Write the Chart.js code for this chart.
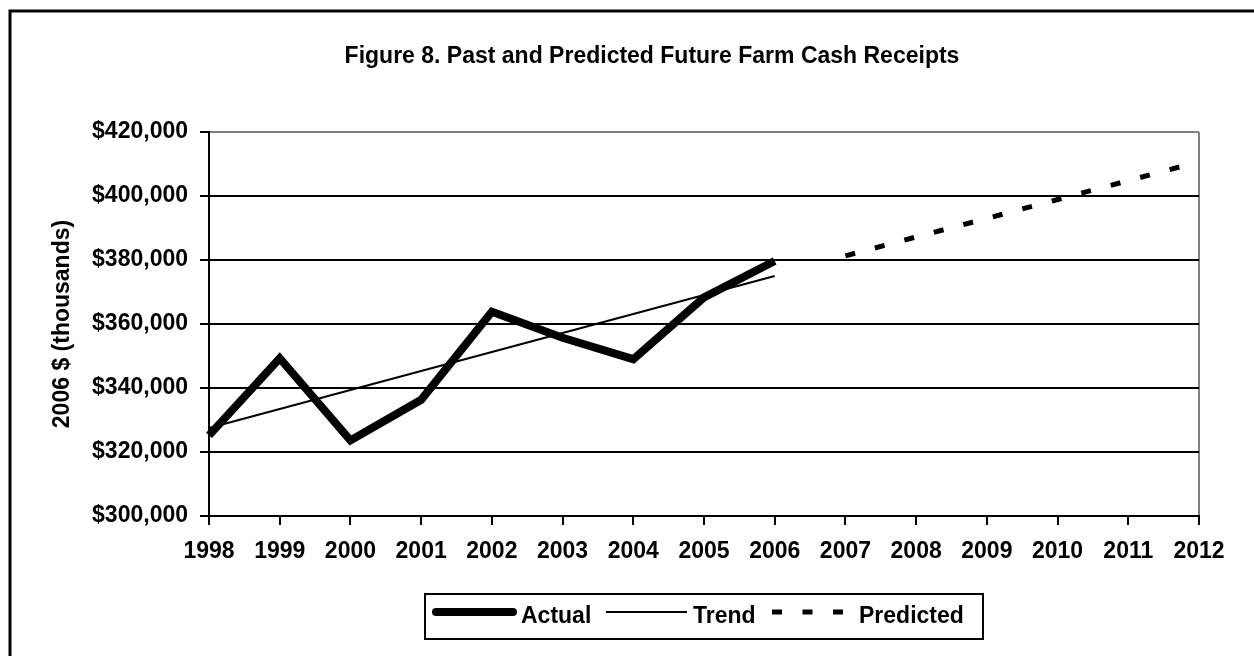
<!DOCTYPE html>
<html>
<head>
<meta charset="utf-8">
<title>Figure 8</title>
<script src="https://cdn.jsdelivr.net/npm/chart.js@4.4.0/dist/chart.umd.min.js"></script>
<style>
  html, body { margin: 0; padding: 0; background: #fff; }
  canvas { display: block; }
</style>
</head>
<body>
<canvas id="chart" width="1254" height="656"></canvas>
<script>
// Data (2006 $, thousands)
const years = ['1998', '1999', '2000', '2001', '2002', '2003', '2004', '2005',
               '2006', '2007', '2008', '2009', '2010', '2011', '2012'];
const actual = [325200, 349300, 323600, 336300, 363800, 355700, 349000, 368300, 379700,
                null, null, null, null, null, null];
const trend = [327500, 333440, 339380, 345310, 351250, 357190, 363130, 369060, 375000,
               null, null, null, null, null, null];
const predicted = [null, null, null, null, null, null, null, null, null,
                   381300, 387200, 393000, 398900, 404800, 410700];
const yMin = 300000;
const yMax = 420000;
const yStep = 20000;

const chartTitle = 'Figure 8. Past and Predicted Future Farm Cash Receipts';
const FONT = '"Liberation Sans", Arial, sans-serif';

Chart.defaults.font.family = FONT;
Chart.defaults.color = '#000';

// legend slots: line start/end and text x
const legendSlots = [
    { x0: 436, x1: 513, tx: 521 },
    { x0: 606, x1: 687, tx: 693 },
    { x0: 772, x1: 845, tx: 859 }
];

// frame, title and boxed legend
const figureDecor = {
    id: 'figureDecor',
    beforeDraw(chart) {
        const ctx = chart.ctx;
        ctx.save();
        ctx.fillStyle = '#fff';
        ctx.fillRect(0, 0, chart.width, chart.height);
        ctx.strokeStyle = '#000';
        ctx.lineWidth = 3;
        ctx.strokeRect(10, 11, chart.width + 40, chart.height + 40);
        ctx.restore();
    },
    afterDraw(chart) {
        const ctx = chart.ctx;
        ctx.save();
        ctx.fillStyle = '#000';
        ctx.font = 'bold 23px ' + FONT;
        ctx.textAlign = 'center';
        ctx.textBaseline = 'alphabetic';
        ctx.fillText(chartTitle, 652, 63);

        ctx.strokeStyle = '#000';
        ctx.lineWidth = 2;
        ctx.strokeRect(425, 594, 558, 45);

        ctx.textAlign = 'left';
        legendSlots.forEach((slot, i) => {
            const ds = chart.data.datasets[i];
            ctx.beginPath();
            ctx.lineWidth = ds.borderWidth;
            ctx.lineCap = i === 0 ? 'round' : 'butt';
            ctx.setLineDash(ds.borderDash || []);
            ctx.moveTo(slot.x0, 612);
            ctx.lineTo(slot.x1, 612);
            ctx.stroke();
            ctx.setLineDash([]);
            ctx.fillText(ds.label, slot.tx, 623);
        });
        ctx.restore();
    }
};

new Chart(document.getElementById('chart'), {
    type: 'line',
    data: {
        labels: years,
        datasets: [
            { label: 'Actual', data: actual, borderColor: '#000', borderWidth: 8,
              borderJoinStyle: 'miter', borderCapStyle: 'butt' },
            { label: 'Trend', data: trend, borderColor: '#000', borderWidth: 2 },
            { label: 'Predicted', data: predicted, borderColor: '#000', borderWidth: 5,
              borderDash: [10, 20.5], borderCapStyle: 'butt' }
        ]
    },
    options: {
        responsive: false,
        animation: false,
        layout: { padding: { left: 40, right: 55, top: 132, bottom: 90 } },
        elements: {
            point: { radius: 0, hoverRadius: 0 },
            line: { tension: 0, fill: false }
        },
        plugins: {
            legend: { display: false },
            title: { display: false },
            tooltip: { enabled: false }
        },
        scales: {
            x: {
                offset: false,
                grid: {
                    color: (c) => c.index === years.length - 1 ? '#808080' : 'rgba(0,0,0,0)',
                    tickColor: '#000',
                    lineWidth: 2,
                    tickWidth: 2,
                    tickLength: 9
                },
                border: { display: true, color: '#000', width: 2 },
                ticks: {
                    font: { size: 23, weight: 'bold' },
                    padding: 13,
                    maxRotation: 0,
                    autoSkip: false
                },
                afterFit: (s) => { s.height = 50; }
            },
            y: {
                min: yMin,
                max: yMax,
                grid: {
                    color: (c) => c.tick && c.tick.value === yMax ? '#808080' : '#000',
                    tickColor: '#000',
                    lineWidth: 2,
                    tickWidth: 2,
                    tickLength: 9
                },
                border: { display: true, color: '#000', width: 2 },
                ticks: {
                    stepSize: yStep,
                    padding: 12,
                    font: { size: 23, weight: 'bold' },
                    callback: (v) => '$' + Number(v).toLocaleString('en-US')
                },
                title: {
                    display: true,
                    text: '2006 $ (thousands)',
                    font: { size: 23, weight: 'bold' },
                    padding: { top: 9, bottom: 0 }
                },
                afterFit: (s) => { s.width = 169; }
            }
        }
    },
    plugins: [figureDecor]
});
</script>
</body>
</html>
